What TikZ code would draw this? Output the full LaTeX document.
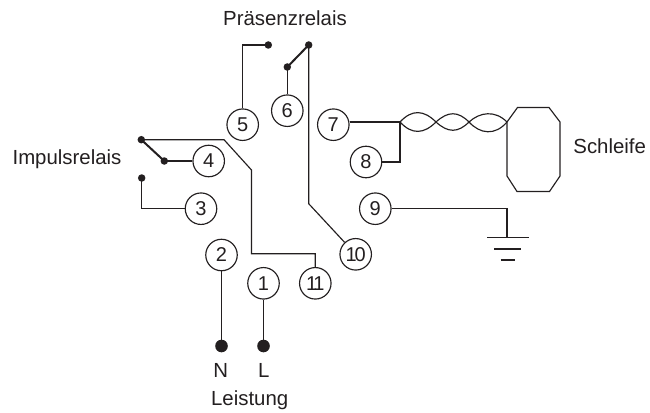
\documentclass[tikz,border=0pt]{standalone}
\usepackage{fontspec}
\setmainfont{Liberation Sans}
\definecolor{ink}{HTML}{231F20}
\tikzset{
  term/.style={circle,draw=ink,line width=1.15pt,fill=white,minimum size=31.5pt,inner sep=0pt,font=\fontsize{20}{22}\selectfont,text=ink},
  pin/.style={circle,fill=ink,inner sep=0pt,minimum size=7.5pt},
  bigpin/.style={circle,fill=ink,inner sep=0pt,minimum size=12.6pt},
  lbl/.style={font=\fontsize{20.4}{24}\selectfont,text=ink,inner sep=0pt,anchor=base},
  wire/.style={draw=ink,line width=1.15pt},
  blade/.style={draw=ink,line width=2pt}
}
\begin{document}
\begin{tikzpicture}[x=1pt,y=-1pt]
\useasboundingbox (0,0) rectangle (650,412);
\node[term] (t1) at (263.5,283.3) {1};
\node[term] (t2) at (221.5,255) {2};
\node[term] (t3) at (201,208.7) {3};
\node[term] (t4) at (208.7,161) {4};
\node[term] (t5) at (242.7,124.7) {5};
\node[term] (t6) at (287.3,110.7) {6};
\node[term] (t7) at (333.3,124.7) {7};
\node[term] (t8) at (366,162) {8};
\node[term] (t9) at (375.3,208.7) {9};
\node[term] (t10) at (355.7,254.3) {1\kern-2pt 0};
\node[term] (t11) at (315.3,283.3) {1\kern-4pt 1};
\node[pin] (a1) at (141.3,139.7) {};
\node[pin] (a2) at (164.3,161) {};
\node[pin] (a3) at (141.7,178) {};
\node[pin] (b1) at (268.3,45) {};
\node[pin] (b2) at (287.3,67) {};
\node[pin] (b3) at (308.7,45) {};
\node[bigpin] (n) at (221.5,346) {};
\node[bigpin] (l) at (263.5,346) {};
\coordinate (tw1) at (400,122);
\coordinate (tw2) at (507,122);
\coordinate (gnd) at (507,237.7);
% wires
\draw[wire] (a1.center) -- (224,139.7) -- (251.5,170) -- (251.5,253.7) -- (315.3,253.7) -- (t11.north);
\draw[wire] (a2.center) -- (t4.west);
\draw[wire] (a3.center) -- (141.7,208.7) -- (t3.west);
\draw[blade] (a1.center) -- (a2.center);
\draw[wire] (b1.center) -- (242.7,45) -- (t5.north);
\draw[wire] (b2.center) -- (t6.north);
\draw[blade] (b2.center) -- (b3.center);
\draw[wire] (b3.center) -- (308.7,203.7) -- (t10);
\draw[wire] (t2.south) -- (n.center);
\draw[wire] (t1.south) -- (l.center);
\draw[wire] (t7.east |- tw1) -- (tw1);
\draw[wire] (t8.east) -- (400,162) -- (tw1);
\draw[wire] (t9.east) -- (507,208.7) -- (gnd);
% twisted pair
\draw[wire] (tw1) .. controls (412,109) and (424,110) .. (436,122)
  .. controls (448,133) and (458,133) .. (469,122)
  .. controls (480,112) and (495,110) .. (tw2);
\draw[wire] (tw1) .. controls (412,135) and (424,134) .. (436,122)
  .. controls (448,111) and (458,111) .. (469,122)
  .. controls (480,134) and (495,136) .. (tw2);
% loop
\draw[wire] (tw2) -- (517.5,107.5) -- (549,107.5) -- (560,122) -- (560,176) -- (549.5,191.5) -- (517,191.5) -- (507,176) -- cycle;
% ground
\draw[wire] (487,237.7) -- (528.7,237.7);
\draw[wire] (494,249) -- (521,249);
\draw[wire] (500.7,260) -- (514.7,260);
% labels
\node[lbl] (p) at (285,25.7) {Präsenzrelais};
\node[lbl] (i) at (67,164.3) {Impulsrelais};
\node[lbl] (s) at (609.7,153.3) {Schleife};
\node[lbl] (nn) at (220.7,377.7) {N};
\node[lbl] (ll) at (263.7,377.7) {L};
\node[lbl] (lei) at (249.7,405.7) {Leistung};
\end{tikzpicture}
\end{document}
